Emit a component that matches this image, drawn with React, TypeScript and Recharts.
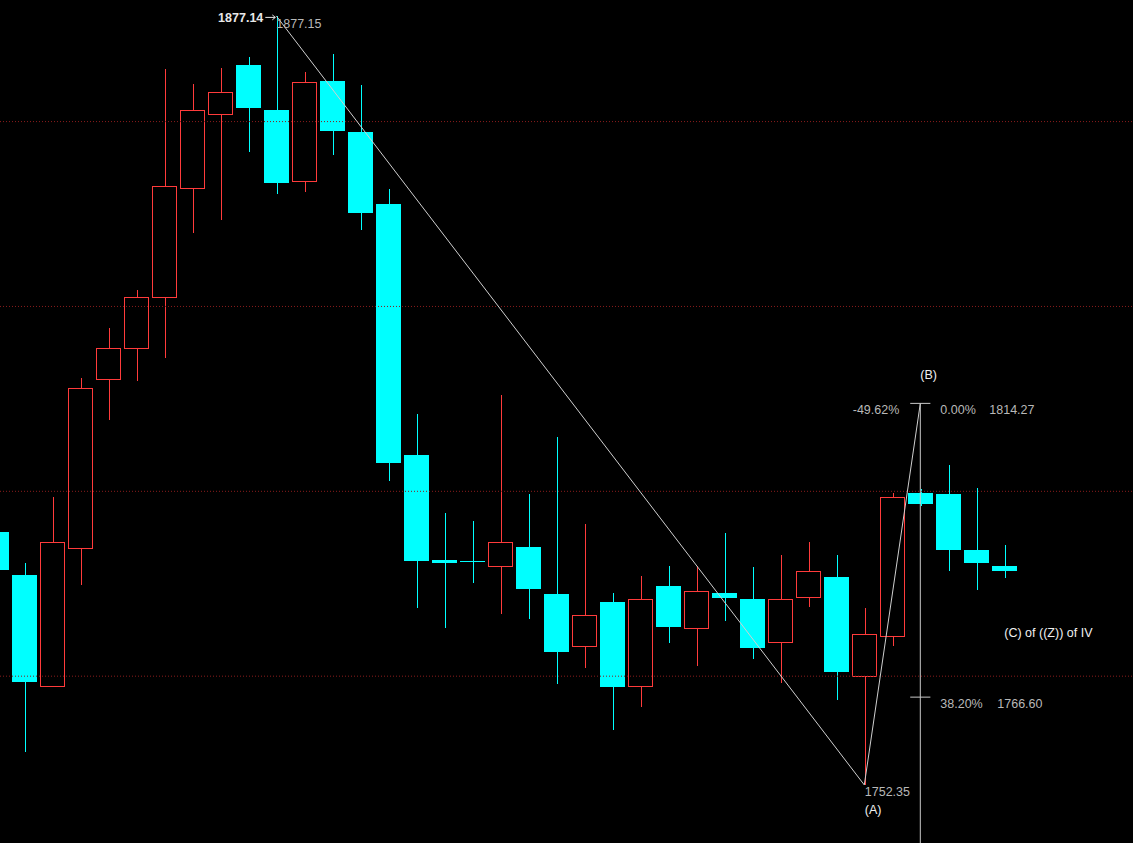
import React from "react";
import { ComposedChart, Bar, XAxis, YAxis, ReferenceLine, ReferenceDot } from "recharts";

const opens = [
  1793.4, 1786.4, 1768.4, 1790.75, 1818.3, 1823.3, 1831.6, 1849.2, 1861.2, 1869.2,
  1861.9, 1850.4, 1866.6, 1858.3, 1846.6, 1805.9, 1788.85, 1788.65, 1787.8, 1790.96,
  1783.3, 1774.85, 1782.0, 1768.35, 1784.6, 1777.9, 1783.45, 1782.5, 1775.5, 1782.8,
  1786.1, 1770.1, 1776.6, 1799.7, 1799.6, 1790.4, 1787.8,
];
const highs = [
  1795.0, 1788.4, 1799.1, 1818.4, 1826.5, 1832.7, 1868.5, 1866.1, 1868.7, 1870.5,
  1877.15, 1868.05, 1871.0, 1865.9, 1849.1, 1812.5, 1796.5, 1795.2, 1815.6, 1799.6,
  1808.8, 1794.7, 1783.45, 1786.25, 1787.9, 1787.9, 1793.2, 1787.7, 1789.7, 1791.8,
  1789.7, 1781.0, 1799.8, 1800.3, 1804.3, 1800.5, 1791.3,
];
const lows = [
  1785.0, 1757.7, 1768.4, 1784.8, 1811.5, 1817.9, 1821.7, 1842.0, 1844.1, 1855.1,
  1848.3, 1848.6, 1854.5, 1842.45, 1801.6, 1781.1, 1777.9, 1785.2, 1780.1, 1779.3,
  1768.8, 1771.4, 1761.3, 1765.0, 1775.4, 1771.7, 1779.0, 1772.8, 1768.9, 1781.3,
  1766.2, 1752.35, 1774.9, 1797.6, 1787.1, 1784.0, 1785.9,
];
const closes = [
  1787.2, 1769.1, 1791.7, 1816.7, 1823.2, 1831.6, 1849.5, 1861.8, 1864.75, 1862.25,
  1850.1, 1866.4, 1858.5, 1845.2, 1804.6, 1788.7, 1788.4, 1788.55, 1791.7, 1784.15,
  1774.0, 1780.0, 1768.3, 1782.5, 1778.0, 1783.9, 1782.7, 1774.6, 1782.5, 1787.1,
  1770.6, 1776.8, 1799.0, 1797.9, 1790.5, 1788.4, 1787.1,
];

const gridLevels = [1770, 1800, 1830, 1860];

// swing points used by the drawings
const swingHigh = { x: 10, y: 1877.15 };
const swingLow = { x: 31, y: 1752.35 };
const fibTop = { x: 33, y: 1814.27 };
const fibLevel = { x: 33, y: 1766.6 };
const waveLabel = { x: 36, y: 1776.35 };

const Y_MIN = 1742.93;
const Y_MAX = 1879.73;
const X_MIN = 0.132;
const X_MAX = 40.596;

const UP = "#ff3b3b";
const DOWN = "#00ffff";
const FONT = "'Liberation Sans', Arial, sans-serif";

const candles = opens.map((o, i) => ({
  idx: i,
  open: o,
  high: highs[i],
  low: lows[i],
  close: closes[i],
  range: [lows[i], highs[i]],
}));

const CandleShape = (props: any) => {
  const { x, y, width, height, payload } = props;
  const { open, close, high, low } = payload;
  const top = Math.min(y, y + height);
  const h = Math.abs(height);
  const k = h / (high - low);
  const wx = Math.round(x + width / 2);
  const bodyTop = top + (high - Math.max(open, close)) * k;
  const bodyBot = top + (high - Math.min(open, close)) * k;
  const left = Math.round(x);
  const wTop = Math.round(top);
  const wBot = Math.round(top + h);
  if (close > open) {
    const bt = Math.round(bodyTop);
    const bb = Math.round(bodyBot);
    const w = Math.round(width);
    return (
      <g shapeRendering="crispEdges">
        <rect x={wx} y={wTop} width={1} height={Math.max(0, bt - wTop)} fill={UP} />
        <rect x={wx} y={bb} width={1} height={Math.max(0, wBot - bb)} fill={UP} />
        <rect x={left} y={bt} width={w} height={1} fill={UP} />
        <rect x={left} y={bb} width={w} height={1} fill={UP} />
        <rect x={left} y={bt} width={1} height={bb - bt + 1} fill={UP} />
        <rect x={left + w - 1} y={bt} width={1} height={bb - bt + 1} fill={UP} />
      </g>
    );
  }
  const bt = Math.round(bodyTop);
  const bh = Math.max(1, Math.round(bodyBot) - bt);
  return (
    <g shapeRendering="crispEdges">
      <rect x={wx} y={wTop} width={1} height={Math.max(1, wBot - wTop)} fill={DOWN} />
      <rect x={left} y={bt} width={Math.round(width)} height={bh} fill={DOWN} />
    </g>
  );
};

type Note = {
  at: { x: number; y: number };
  text: string;
  dx: number;
  dy: number;
  anchor: "start" | "end";
  color: string;
  bold?: boolean;
  arrow?: boolean;
};

const notes: Note[] = [
  { at: swingHigh, text: "1877.14", dx: -13, dy: 6, anchor: "end", color: "#e8e8e8", bold: true, arrow: true },
  { at: swingHigh, text: "1877.15", dx: 0, dy: 12.5, anchor: "start", color: "#b8b8b8" },
  { at: fibTop, text: "(B)", dx: 0, dy: -24.5, anchor: "start", color: "#f0f0f0" },
  { at: fibTop, text: "-49.62%", dx: -21, dy: 10.6, anchor: "end", color: "#b8b8b8" },
  { at: fibTop, text: "0.00%", dx: 20, dy: 10.6, anchor: "start", color: "#b8b8b8" },
  { at: fibTop, text: "1814.27", dx: 69, dy: 10.6, anchor: "start", color: "#b8b8b8" },
  { at: fibLevel, text: "38.20%", dx: 20, dy: 11, anchor: "start", color: "#b8b8b8" },
  { at: fibLevel, text: "1766.60", dx: 77, dy: 11, anchor: "start", color: "#b8b8b8" },
  { at: swingLow, text: "1752.35", dx: 0.5, dy: 11.5, anchor: "start", color: "#b8b8b8" },
  { at: swingLow, text: "(A)", dx: 0.5, dy: 29.5, anchor: "start", color: "#f0f0f0" },
  { at: waveLabel, text: "(C) of ((Z)) of IV", dx: 0, dy: 0, anchor: "start", color: "#f0f0f0" },
];

export default function App() {
  return (
    <div style={{ position: "absolute", left: 0, top: 0, width: 1133, height: 843, background: "#000" }}>
      <ComposedChart
        width={1133}
        height={843}
        data={candles}
        margin={{ top: 0, right: 0, bottom: 0, left: 0 }}
        style={{ background: "#000" }}
      >
        <XAxis dataKey="idx" type="number" domain={[X_MIN, X_MAX]} allowDataOverflow hide />
        <YAxis type="number" domain={[Y_MIN, Y_MAX]} allowDataOverflow hide />
        {gridLevels.map((v) => (
          <ReferenceLine key={v} y={v} stroke="#8a1c1c" strokeDasharray="1 2" strokeWidth={1} />
        ))}
        <Bar dataKey="range" barSize={25} shape={<CandleShape />} isAnimationActive={false} />
        <ReferenceLine segment={[swingHigh, swingLow]} stroke="#cfcfcf" strokeWidth={1} ifOverflow="visible" />
        <ReferenceLine segment={[swingLow, fibTop]} stroke="#cfcfcf" strokeWidth={1} ifOverflow="visible" />
        <ReferenceLine segment={[fibTop, { x: fibTop.x, y: Y_MIN }]} stroke="#c8c8c8" strokeWidth={1} ifOverflow="visible" />
        <ReferenceLine segment={[{ x: fibTop.x - 0.36, y: fibTop.y }, { x: fibTop.x + 0.36, y: fibTop.y }]} stroke="#c8c8c8" strokeWidth={1} ifOverflow="visible" />
        <ReferenceLine segment={[{ x: fibLevel.x - 0.36, y: fibLevel.y }, { x: fibLevel.x + 0.36, y: fibLevel.y }]} stroke="#c8c8c8" strokeWidth={1} ifOverflow="visible" />
        {notes.map((n, i) => (
          <ReferenceDot
            key={i}
            x={n.at.x}
            y={n.at.y}
            r={0}
            ifOverflow="visible"
            shape={(p: any) => (
              <g>
                <text
                  x={p.cx + n.dx}
                  y={p.cy + n.dy}
                  textAnchor={n.anchor}
                  fill={n.color}
                  fontSize={12.5}
                  fontWeight={n.bold ? "bold" : "normal"}
                  fontFamily={FONT}
                >
                  {n.text}
                </text>
                {n.arrow && (
                  <path
                    d={`M${p.cx - 11},${p.cy + 1.5} L${p.cx - 1},${p.cy + 1.5} M${p.cx - 4},${p.cy - 1} L${p.cx - 1},${p.cy + 1.5} L${p.cx - 4},${p.cy + 4}`}
                    stroke="#e8e8e8"
                    strokeWidth={1}
                    fill="none"
                  />
                )}
              </g>
            )}
          />
        ))}
      </ComposedChart>
    </div>
  );
}
